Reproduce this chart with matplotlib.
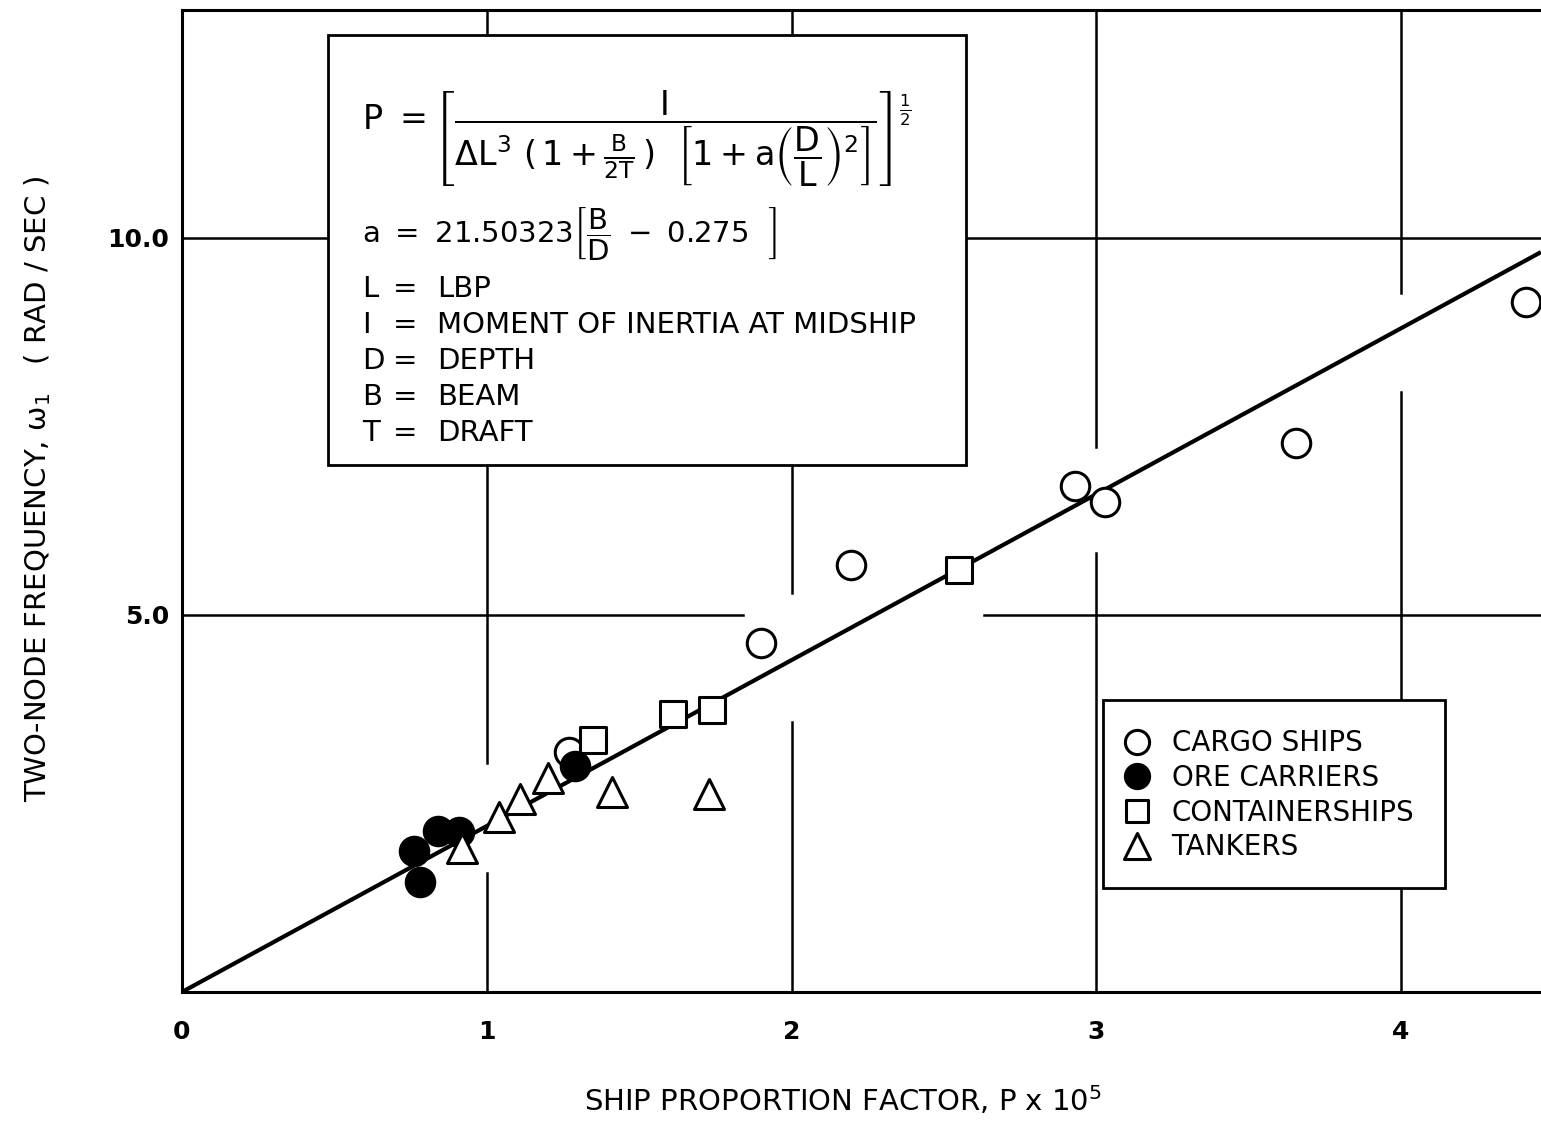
import numpy as np
import matplotlib
matplotlib.use('Agg')
import matplotlib.pyplot as plt
from matplotlib.markers import MarkerStyle
from matplotlib.patches import Rectangle

plt.rcParams.update({
    'font.family': 'DejaVu Sans',
    'mathtext.fontset': 'dejavusans',
    'mathtext.default': 'regular',
})

# --- datos ---
cargo_p = [1.27, 1.90, 2.195, 2.93, 3.03, 3.655, 4.41]
cargo_w = [3.18, 4.63, 5.66, 6.71, 6.49, 7.28, 9.15]
ore_p = [0.76, 0.78, 0.84, 0.91, 1.29]
ore_w = [1.87, 1.46, 2.14, 2.12, 3.00]
cont_p = [1.35, 1.61, 1.74, 2.55]
cont_w = [3.34, 3.69, 3.74, 5.60]
tank_p = [0.92, 1.04, 1.11, 1.20, 1.41, 1.73]
tank_w = [1.91, 2.32, 2.56, 2.84, 2.65, 2.63]
fit_slope = 2.2

xticks = [0, 1, 2, 3, 4]
xticklabels = ['0', '1', '2', '3', '4']
yticks = [5, 10]
yticklabels = ['5.0', '10.0']

def_syms = ['L', 'I', 'D', 'B', 'T']
def_text = ['LBP', 'MOMENT OF INERTIA AT MIDSHIP', 'DEPTH', 'BEAM', 'DRAFT']

XMAX, YMAX = 4.459, 13.02

fig = plt.figure(figsize=(15.41, 11.21), dpi=100)
ax = fig.add_axes([0.1181, 0.1151, 0.8819, 0.876])
ax.set_xlim(0, XMAX)
ax.set_ylim(0, YMAX)

# rejilla dibujada a mano, con los cortes del original
vgaps = {1: (1.58, 3.04), 2: (3.58, 5.29), 3: (5.82, 7.23), 4: (7.96, 9.27)}
hgaps = {5: (1.84, 2.63), 10: None}
for xv, g in vgaps.items():
    segs = [(0, g[0]), (g[1], YMAX)] if g else [(0, YMAX)]
    for a, b in segs:
        ax.plot([xv, xv], [a, b], color='black', lw=1.8, zorder=1)
for yv, g in hgaps.items():
    segs = [(0, g[0]), (g[1], XMAX)] if g else [(0, XMAX)]
    for a, b in segs:
        ax.plot([a, b], [yv, yv], color='black', lw=1.8, zorder=1)

# recta de ajuste
fx = np.array([0, XMAX])
ax.plot(fx, fit_slope * fx, color='black', lw=3.0, zorder=2, solid_capstyle='butt')

mk = dict(linestyle='none', mec='black', mew=2.2)
sq = MarkerStyle('s', joinstyle='round')
tri = MarkerStyle('^', joinstyle='round')
h_cargo, = ax.plot(cargo_p, cargo_w, marker='o', ms=20.5, mfc='white', zorder=3, **mk)
h_cont, = ax.plot(cont_p, cont_w, marker=sq, ms=18.5, mfc='white', zorder=3, **mk)
h_ore, = ax.plot(ore_p, ore_w, marker='o', ms=20.5, mfc='black', zorder=4, **mk)
h_tank, = ax.plot(tank_p, tank_w, marker=tri, ms=21.5, mfc='white', zorder=5, **mk)

# ejes
for s in ['left', 'bottom', 'top']:
    ax.spines[s].set_linewidth(2.2)
ax.spines['right'].set_visible(False)
ax.set_xticks(xticks)
ax.set_xticklabels(xticklabels, fontsize=18, fontweight='bold')
ax.set_yticks(yticks)
ax.set_yticklabels(yticklabels, fontsize=18, fontweight='bold')
ax.tick_params(axis='x', length=0, pad=20)
ax.tick_params(axis='y', length=0, pad=9)

ax.set_xlabel('SHIP PROPORTION FACTOR, P x 10$^5$', fontsize=21, va='center')
ax.xaxis.set_label_coords(0.4864, -0.111)
fig.text(38 / 1541, 1 - 489 / 1121, r'TWO-NODE FREQUENCY, $\omega_1$   ( RAD / SEC )',
         rotation=90, ha='center', va='center', fontsize=21)

# recuadro con la formula
ax.add_patch(Rectangle((0.1074, 0.5367), 0.4695, 0.4378, transform=ax.transAxes,
                       fc='white', ec='black', lw=2.0, zorder=6))
formula = (r'$P\ =\left[\dfrac{I}{\Delta L^{3}\ (\,1+\frac{B}{2T}\,)\ \ '
           r'\left[1+a\left(\dfrac{D}{L}\right)^{2}\right]}\right]^{\frac{1}{2}}$')
ax.text(0.1325, 0.869, formula, transform=ax.transAxes, fontsize=24,
        ha='left', va='center', zorder=7)
ax.text(0.1325, 0.771, r'$a\ =\ 21.50323\left[\dfrac{B}{D}\ -\ 0.275\ \ \right]$',
        transform=ax.transAxes, fontsize=21, ha='left', va='center', zorder=7)
for i, (s, t) in enumerate(zip(def_syms, def_text)):
    yy = 0.716 - i * 0.0367
    ax.text(0.1325, yy, s, transform=ax.transAxes, fontsize=21, ha='left', va='center', zorder=7)
    ax.text(0.155, yy, '=', transform=ax.transAxes, fontsize=21, ha='left', va='center', zorder=7)
    ax.text(0.188, yy, t, transform=ax.transAxes, fontsize=21, ha='left', va='center', zorder=7)

# leyenda
ax.add_patch(Rectangle((0.678, 0.106), 0.251, 0.191, transform=ax.transAxes,
                       fc='white', ec='black', lw=2.0, zorder=6))
leg = ax.legend([h_cargo, h_ore, h_cont, h_tank],
                ['CARGO SHIPS', 'ORE CARRIERS', 'CONTAINERSHIPS', 'TANKERS'],
                loc='upper left', bbox_to_anchor=(0.676, 0.29), frameon=False,
                fontsize=20, markerscale=0.85, handlelength=1.0, handletextpad=0.75,
                labelspacing=0.24, borderpad=0.3)
leg.set_zorder(7)

fig.savefig('out.png', dpi=100)
